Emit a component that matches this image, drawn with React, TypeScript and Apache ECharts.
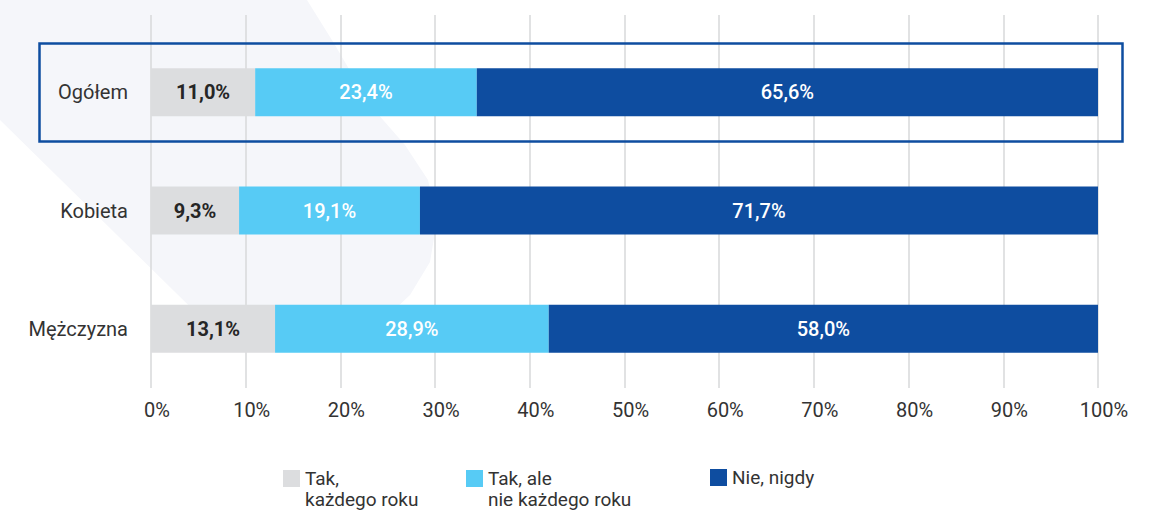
import React, { useEffect, useRef } from "react";
import * as echarts from "echarts";

const categories = ["Ogółem", "Kobieta", "Mężczyzna"];
const seriesNames = ["Tak,\nkażdego roku", "Tak, ale\nnie każdego roku", "Nie, nigdy"];
const yearlyValues = [11.0, 9.3, 13.1];
const notYearlyValues = [23.4, 19.1, 28.9];
const neverValues = [65.6, 71.7, 58.0];
const seriesColors = ["#DCDDDF", "#57CBF5", "#0E4DA0"];
const labelColors = ["#262626", "#FFFFFF", "#FFFFFF"];
const labelWeights = ["bold", 500, 500];
const legendLefts = [283, 466, 710];

const FONT = "Roboto, 'Noto Sans', sans-serif";

const fmt = (v: number) => v.toFixed(1).replace(".", ",") + "%";

export default function App() {
  const ref = useRef<HTMLDivElement>(null);
  useEffect(() => {
    document.body.style.margin = "0";
    const chart = echarts.init(ref.current!, undefined, { renderer: "svg" });
    const values = [yearlyValues, notYearlyValues, neverValues];
    const option: any = {
      animation: false,
      backgroundColor: "#ffffff",
      textStyle: { fontFamily: FONT },
      grid: [
        { left: 151, width: 947, top: 33, height: 355 },
        { left: 151, width: 947, top: 15, height: 18 },
      ],
      xAxis: [
        {
          gridIndex: 0,
          type: "value",
          min: 0,
          max: 100,
          interval: 10,
          axisLine: { show: false },
          axisTick: { show: false },
          splitLine: { show: true, lineStyle: { color: "#D7D8DA", width: 1.5 } },
          axisLabel: {
            formatter: "{value}%",
            color: "#333333",
            fontSize: 20,
            fontFamily: FONT,
            margin: 12,
            padding: [0, 0, 0, 12],
          },
        },
        {
          gridIndex: 1,
          type: "value",
          min: 0,
          max: 100,
          interval: 10,
          axisLine: { show: false },
          axisTick: { show: false },
          axisLabel: { show: false },
          splitLine: { show: true, lineStyle: { color: "#D7D8DA", width: 1.5 } },
        },
      ],
      yAxis: [
        {
          gridIndex: 0,
          type: "category",
          data: categories,
          inverse: true,
          axisLine: { show: false },
          axisTick: { show: false },
          axisLabel: { color: "#333333", fontSize: 20, fontFamily: FONT, margin: 23 },
        },
        {
          gridIndex: 1,
          type: "category",
          data: [],
          show: false,
        },
      ],
      legend: seriesNames.map((n, i) => {
        const multi = n.indexOf("\n") >= 0;
        return {
          data: [n],
          left: legendLefts[i] - 5,
          top: multi ? 442 : 462,
          itemWidth: 17,
          itemHeight: 17,
          itemGap: 6,
          icon: "rect",
          selectedMode: false,
          formatter: (name: string) => (multi ? "\n" + name : name),
          textStyle: {
            fontSize: 19,
            lineHeight: 21,
            color: "#333333",
            fontFamily: FONT,
          },
        };
      }),
      graphic: [
        {
          type: "polygon",
          z: -10,
          silent: true,
          shape: {
            points: [
              [0, 0],
              [307, 0],
              [335, 45],
              [370, 105],
              [405, 145],
              [428, 180],
              [437, 220],
              [430, 262],
              [410, 295],
              [378, 325],
              [330, 346],
              [275, 352],
              [232, 348],
              [0, 120],
            ],
          },
          style: { fill: "#F5F6FA" },
        },
        {
          type: "rect",
          z: 100,
          silent: true,
          shape: { x: 39.5, y: 43.5, width: 1083, height: 98 },
          style: { fill: "none", stroke: "#0E4DA0", lineWidth: 2.5 },
        },
      ],
      series: values.map((vals, i) => ({
        type: "bar",
        name: seriesNames[i],
        stack: "total",
        xAxisIndex: 0,
        yAxisIndex: 0,
        barWidth: 48,
        data: vals,
        itemStyle: { color: seriesColors[i] },
        label: {
          show: true,
          position: "inside",
          color: labelColors[i],
          fontWeight: labelWeights[i],
          fontSize: 20,
          fontFamily: FONT,
          formatter: (p: any) => fmt(p.value),
        },
      })),
    };
    chart.setOption(option);
    return () => chart.dispose();
  }, []);
  return <div ref={ref} style={{ width: 1160, height: 511 }} />;
}
